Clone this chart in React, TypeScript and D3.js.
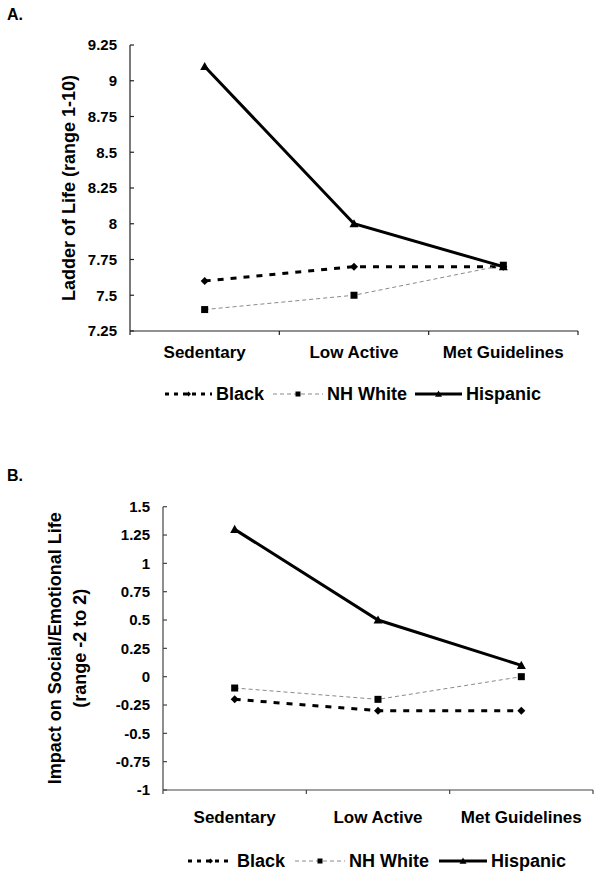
import React from "react";
import * as d3 from "d3";

const categories = ["Sedentary", "Low Active", "Met Guidelines"];
const seriesNames = ["Black", "NH White", "Hispanic"];

const ladderBlack = [7.6, 7.7, 7.7];
const ladderWhite = [7.4, 7.5, 7.71];
const ladderHispanic = [9.1, 8.0, 7.7];
const ladderTicks = [7.25, 7.5, 7.75, 8, 8.25, 8.5, 8.75, 9, 9.25];

const impactBlack = [-0.2, -0.3, -0.3];
const impactWhite = [-0.1, -0.2, 0.0];
const impactHispanic = [1.3, 0.5, 0.1];
const impactTicks = [-1, -0.75, -0.5, -0.25, 0, 0.25, 0.5, 0.75, 1, 1.25, 1.5];

const FONT = "'Liberation Sans', Arial, Helvetica, sans-serif";

type Style = { stroke: string; width: number; dash?: string; marker: "diamond" | "square" | "triangle" };
const styles: Style[] = [
  { stroke: "#000", width: 3, dash: "6,7", marker: "diamond" },
  { stroke: "#8a8a8a", width: 1, dash: "4,3", marker: "square" },
  { stroke: "#000", width: 3, marker: "triangle" },
];

function Marker({ kind, x, y, s }: { kind: string; x: number; y: number; s: number }) {
  if (kind === "diamond") {
    const h = s / 2;
    return <path d={`M${x},${y - h}L${x + h},${y}L${x},${y + h}L${x - h},${y}Z`} fill="#000" />;
  }
  if (kind === "square") {
    return <rect x={x - s / 2} y={y - s / 2} width={s} height={s} fill="#000" />;
  }
  const h = s / 2;
  return <path d={`M${x},${y - h}L${x + h},${y + h * 0.8}L${x - h},${y + h * 0.8}Z`} fill="#000" />;
}

type PanelProps = {
  label: string;
  labelY: number;
  left: number;
  right: number;
  top: number;
  bottom: number;
  domain: [number, number];
  ticks: number[];
  series: number[][];
  titleLines: string[];
  titleXs: number[];
  catY: number;
  legendY: number;
  legendX: number[];
  legendW: number[];
  axisColor: string;
};

function Panel(p: PanelProps) {
  const x = d3.scaleBand<string>().domain(categories).range([p.left, p.right]).padding(0);
  const y = d3.scaleLinear().domain(p.domain).range([p.bottom, p.top]);
  const line = d3
    .line<number>()
    .x((_, i) => (x(categories[i]) as number) + x.bandwidth() / 2)
    .y((v) => y(v));
  const titleCY = (p.top + p.bottom) / 2;
  const bounds = [...categories.map((c) => x(c) as number), p.right];
  return (
    <g>
      <text x={7} y={p.labelY} fontFamily={FONT} fontWeight="bold" fontSize={16}>
        {p.label}
      </text>
      {p.titleLines.map((t, i) => (
        <text
          key={t}
          transform={`translate(${p.titleXs[i]},${titleCY}) rotate(-90)`}
          textAnchor="middle"
          fontFamily={FONT}
          fontWeight="bold"
          fontSize={18}
        >
          {t}
        </text>
      ))}
      {/* y axis */}
      <line x1={p.left} x2={p.left} y1={p.top} y2={p.bottom} stroke={p.axisColor} strokeWidth={1.2} />
      {p.ticks.map((t) => (
        <g key={t}>
          <line x1={p.left} x2={p.left + 4} y1={y(t)} y2={y(t)} stroke={p.axisColor} strokeWidth={1.2} />
          <text
            x={p.left - 13}
            y={y(t)}
            dy="0.36em"
            textAnchor="end"
            fontFamily={FONT}
            fontWeight="bold"
            fontSize={15}
          >
            {String(t)}
          </text>
        </g>
      ))}
      {/* x axis */}
      <line x1={p.left} x2={p.right} y1={p.bottom} y2={p.bottom} stroke={p.axisColor} strokeWidth={1.2} />
      {bounds.map((b, i) => (
        <line key={i} x1={b} x2={b} y1={p.bottom} y2={p.bottom + 4} stroke={p.axisColor} strokeWidth={1.2} />
      ))}
      {categories.map((c) => (
        <text
          key={c}
          x={(x(c) as number) + x.bandwidth() / 2}
          y={p.catY}
          textAnchor="middle"
          fontFamily={FONT}
          fontWeight="bold"
          fontSize={17}
        >
          {c}
        </text>
      ))}
      {/* series */}
      {p.series.map((vals, si) => (
        <path
          key={si}
          d={line(vals) as string}
          fill="none"
          stroke={styles[si].stroke}
          strokeWidth={styles[si].width}
          strokeDasharray={styles[si].dash}
        />
      ))}
      {p.series.map((vals, si) =>
        vals.map((v, i) => (
          <Marker
            key={`${si}-${i}`}
            kind={styles[si].marker}
            x={(x(categories[i]) as number) + x.bandwidth() / 2}
            y={y(v)}
            s={si === 2 ? 9 : si === 0 ? 8 : 7}
          />
        ))
      )}
      {/* legend */}
      {seriesNames.map((n, si) => {
        const x0 = p.legendX[si];
        const w = p.legendW[si];
        const ly = p.legendY - 6;
        return (
          <g key={n}>
            <line
              x1={x0}
              x2={x0 + w}
              y1={ly}
              y2={ly}
              stroke={styles[si].stroke}
              strokeWidth={styles[si].width}
              strokeDasharray={styles[si].dash ? (si === 0 ? "4,5" : "4,3") : undefined}
            />
            <Marker kind={styles[si].marker} x={x0 + w / 2} y={ly} s={si === 2 ? 7 : 5} />
            <text x={x0 + w + 4} y={p.legendY} fontFamily={FONT} fontWeight="bold" fontSize={18}>
              {n}
            </text>
          </g>
        );
      })}
    </g>
  );
}

export default function App() {
  return (
    <svg
      width={601}
      height={878}
      style={{ position: "absolute", left: 0, top: 0, background: "#fff" }}
    >
      <rect width={601} height={878} fill="#fff" />
      <Panel
        label="A."
        labelY={20}
        left={130}
        right={578}
        top={45}
        bottom={331}
        domain={[7.25, 9.25]}
        ticks={ladderTicks}
        series={[ladderBlack, ladderWhite, ladderHispanic]}
        titleLines={["Ladder of Life (range 1-10)"]}
        titleXs={[75]}
        catY={358}
        legendY={400}
        legendX={[165, 273, 415]}
        legendW={[47, 50, 47]}
        axisColor="#222"
      />
      <Panel
        label="B."
        labelY={481}
        left={163}
        right={593}
        top={506.7}
        bottom={790}
        domain={[-1, 1.5]}
        ticks={impactTicks}
        series={[impactBlack, impactWhite, impactHispanic]}
        titleLines={["Impact on Social/Emotional Life", "(range -2 to 2)"]}
        titleXs={[61, 86]}
        catY={823}
        legendY={867}
        legendX={[188, 295, 439]}
        legendW={[45, 50, 48]}
        axisColor="#444"
      />
    </svg>
  );
}
